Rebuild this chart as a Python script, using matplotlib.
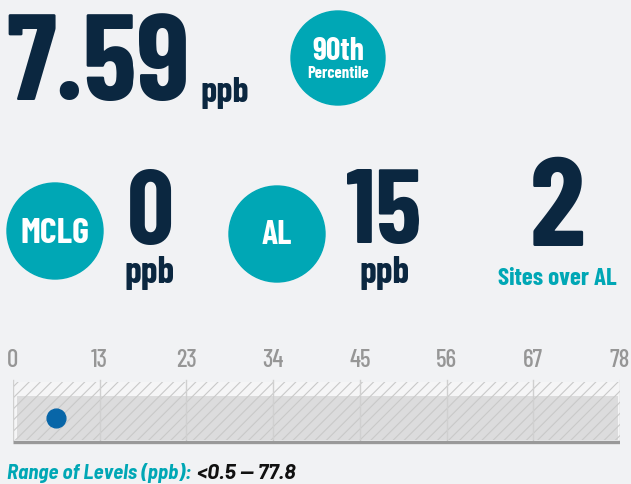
import numpy as np
import matplotlib
matplotlib.use("Agg")
import matplotlib.pyplot as plt
from matplotlib.patches import Circle, Rectangle

# values
percentile_90 = "7.59"
mclg = "0"
action_level = "15"
sites_over_al = "2"
range_min = 0.5
range_max = 77.8
dot_values = [5.5]
tick_labels = ["0", "13", "23", "34", "45", "56", "67", "78"]
axis_max = 78

NAVY = "#0b2740"
TEAL = "#00a7b5"
BG = "#f1f2f4"
COND = ["Barlow Condensed", "Liberation Sans Narrow", "DejaVu Sans"]
SEMI = ["Barlow Semi Condensed", "Liberation Sans Narrow", "DejaVu Sans"]
WIDE = ["Barlow", "Liberation Sans", "DejaVu Sans"]

W, H = 631, 484
fig = plt.figure(figsize=(W / 100, H / 100), dpi=100, facecolor=BG)

# overlay axes in pixel units (y down)
ax0 = fig.add_axes([0, 0, 1, 1])
ax0.set_xlim(0, W)
ax0.set_ylim(H, 0)
ax0.axis("off")


def txt(x, y, s, size, color=NAVY, ha="left", weight="bold", family=COND, style="normal"):
    ax0.text(x, y, s, fontsize=size, color=color, ha=ha, va="baseline",
             fontweight=weight, family=family, style=style)


# top row
txt(6, 100, percentile_90, 88)
txt(200, 102, "ppb", 26)
ax0.add_patch(Circle((338, 58), 47, color=TEAL))
txt(338, 60, "90th", 23, color="white", ha="center")
txt(338, 78, "Percentile", 12, color="white", ha="center")

# second row
ax0.add_patch(Circle((55, 231), 48, color=TEAL))
txt(55, 243, "MCLG", 26, color="white", ha="center")
txt(150, 244, mclg, 75, ha="center")
txt(150, 283, "ppb", 27, ha="center")

ax0.add_patch(Circle((277, 234), 48, color=TEAL))
txt(277, 244, "AL", 24, color="white", ha="center")
txt(384, 243, action_level, 75, ha="center")
txt(385, 283, "ppb", 27, ha="center")

txt(557, 246, sites_over_al, 91, ha="center")
txt(557, 285, "Sites over AL", 18, color=TEAL, ha="center")

# range of levels
txt(7, 479, "Range of Levels (ppb):", 15, color=TEAL, style="italic", family=SEMI)
txt(197, 479, "<0.5 \u2014 77.8", 15.5, color="#111111", style="italic", family=WIDE)

# range bar axes, x in data units, y in pixels
x0, x1 = 13, 620
ax = fig.add_axes([x0 / W, (H - 446) / H, (x1 - x0) / W, (446 - 340) / H])
ax.set_xlim(0, axis_max)
ax.set_ylim(446, 340)
ax.axis("off")
ax.set_facecolor("none")

ticks = np.linspace(0, axis_max, len(tick_labels))
ax.add_patch(Rectangle((0, 382), axis_max, 58, facecolor="#f5f5f6", edgecolor="none", zorder=1))
ax.add_patch(Rectangle((range_min, 396), range_max - range_min, 44,
                       facecolor="#dcdcdd", edgecolor="none", zorder=2))
plt.rcParams["hatch.linewidth"] = 0.8
ax.add_patch(Rectangle((0, 382), axis_max, 58, facecolor="none", edgecolor="#c9c9c9",
                       hatch="///", linewidth=0, zorder=3))
for t, lab in zip(ticks, tick_labels):
    ax.plot([t, t], [380, 440], color="#d0d0d0", lw=1, zorder=4)
    ax.text(t, 367, lab, fontsize=18, color="#969696", ha="center", va="baseline",
            family=COND, fontweight=500)
ax.plot([0, axis_max], [442, 442], color="#999999", lw=2.4, solid_capstyle="butt", zorder=5)
ax.plot(dot_values, [418] * len(dot_values), "o", color="#0866a8", ms=13.5, zorder=6)

fig.savefig("out.png", dpi=100, facecolor=BG)
